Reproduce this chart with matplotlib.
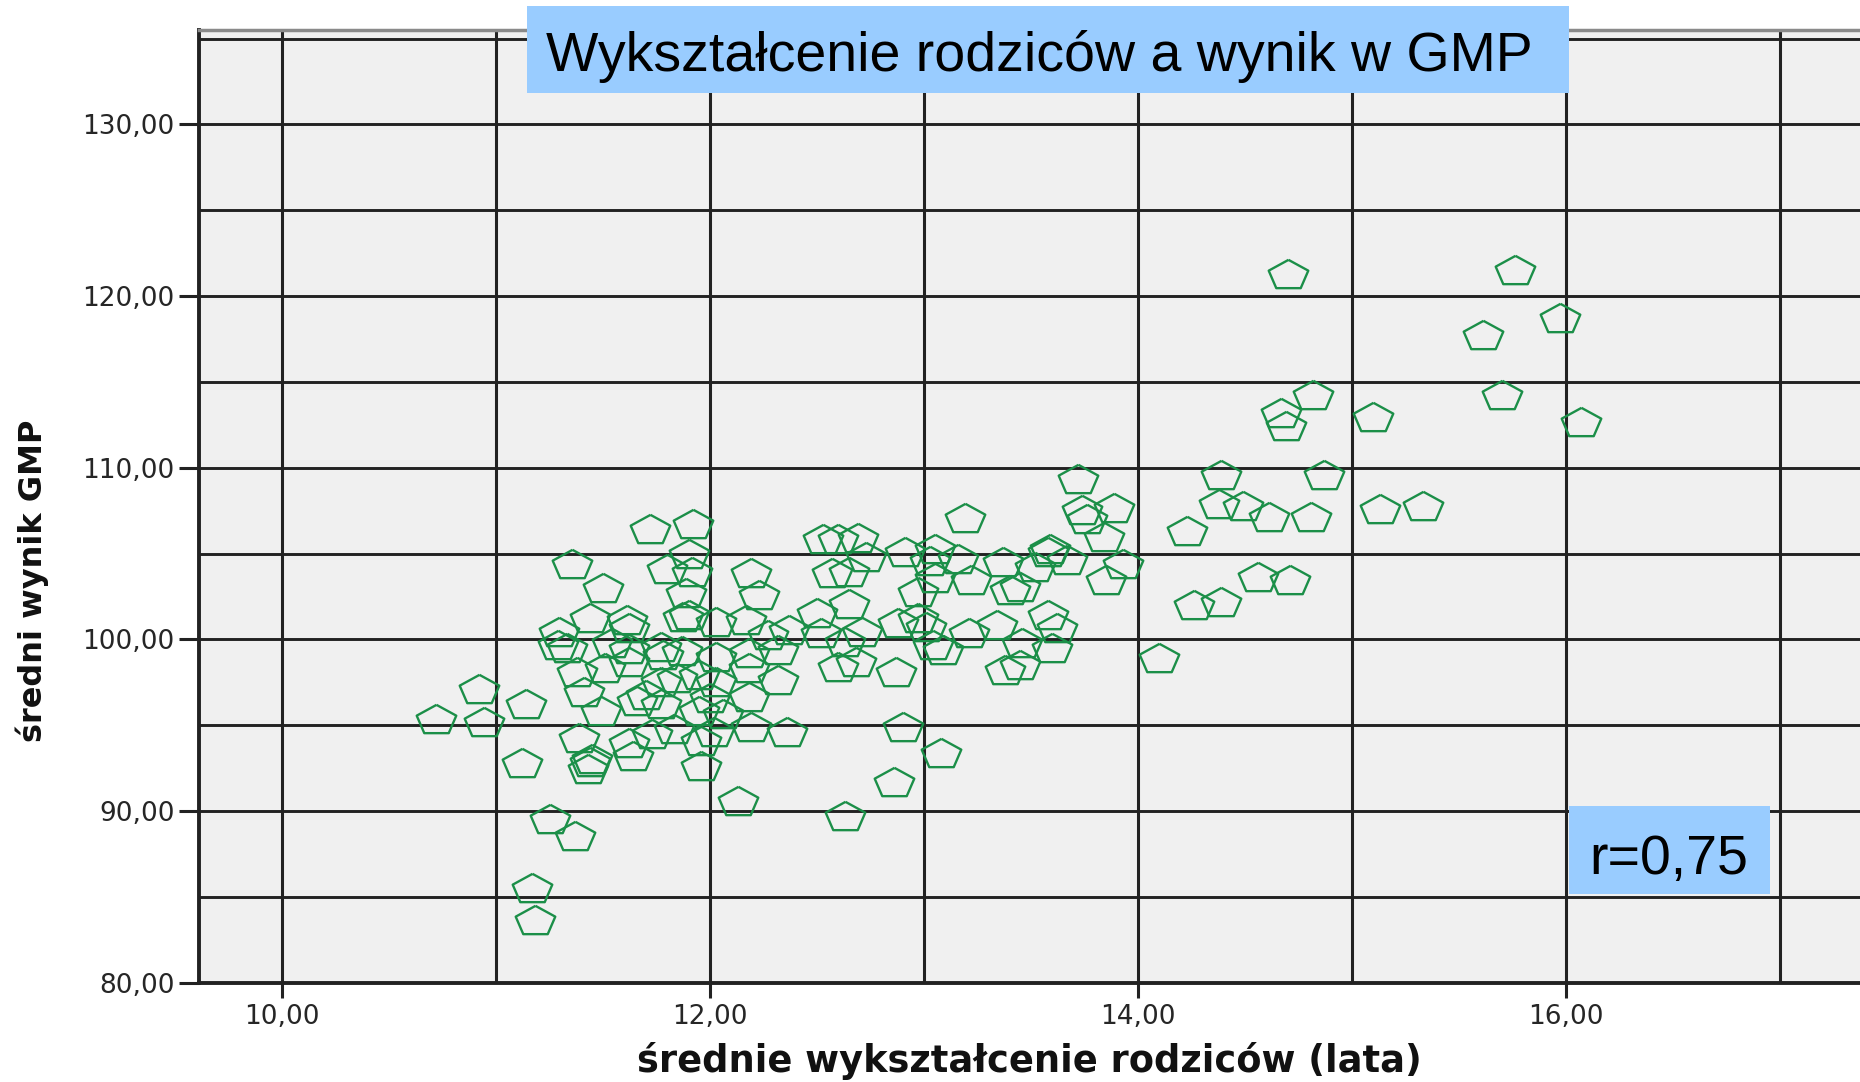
import numpy as np
import matplotlib
matplotlib.use("Agg")
import matplotlib.pyplot as plt
from matplotlib.patches import Rectangle
from matplotlib.ticker import FixedLocator, FuncFormatter

# ---- data ----
parent_edu = [
    10.72, 10.92, 10.945, 11.14, 11.12, 11.25, 11.37, 11.17, 11.18, 11.39,
    11.44, 11.43, 11.45, 11.62, 11.64, 11.49, 11.73, 11.83, 11.96, 11.96,
    11.95, 12.02, 12.06, 12.19, 12.36, 12.13, 12.90, 12.86, 12.63, 13.08,
    11.77, 11.66, 11.41, 12.18,
    11.72, 11.92, 11.355, 11.50, 11.90, 11.80, 11.915, 11.89, 11.875, 11.90,
    12.19, 12.23, 12.53, 12.60, 12.69, 12.57, 12.65, 12.73, 12.91, 13.05,
    12.65, 12.50, 12.03, 12.17, 12.37, 12.52, 12.71, 12.27, 11.295, 11.44,
    11.61, 11.62, 11.33, 11.29, 11.54, 11.77, 11.62, 11.51, 11.38, 11.78,
    12.03, 12.18, 12.32, 12.18, 12.32, 12.03, 11.845, 11.77, 11.70, 12.60,
    12.68, 12.63, 12.87, 12.88, 12.97, 12.97, 13.05, 13.04, 13.01, 13.03,
    11.95, 12.00, 11.87, 11.62,
    13.72, 14.39, 14.87, 13.19, 13.74, 13.76, 13.89, 13.84, 14.38, 14.49,
    14.61, 14.81, 14.23, 15.13, 15.33, 13.59, 13.58, 13.67, 13.93, 13.85,
    13.37, 13.52, 13.45, 13.40, 13.16, 13.22, 14.56, 14.71, 14.26, 14.39,
    14.10, 13.58, 13.62, 13.34, 13.21, 13.46, 13.60, 13.45, 13.38, 13.09,
    14.70, 15.76, 15.97, 15.61, 14.82, 15.70, 14.67, 14.69, 15.10, 16.07,
]
gmp_score = [
    95.33, 97.06, 95.10, 96.20, 92.73, 89.48, 88.51, 85.45, 83.60, 94.17,
    92.77, 92.42, 92.97, 93.93, 93.16, 95.78, 94.42, 94.71, 94.03, 92.58,
    95.78, 94.52, 95.58, 94.81, 94.57, 90.54, 94.81, 91.61, 89.67, 93.35,
    96.16, 96.35, 96.85, 96.60,
    106.40, 106.69, 104.36, 102.91, 104.94, 104.07, 103.88, 102.62, 101.26, 101.36,
    103.78, 102.52, 105.81, 105.81, 105.85, 103.78, 103.88, 104.75, 105.04, 105.20,
    102.03, 101.45, 100.97, 101.07, 100.48, 100.29, 100.39, 100.19, 100.39, 101.16,
    101.07, 100.58, 99.42, 99.61, 99.71, 99.52, 98.64, 98.26, 98.06, 99.03,
    98.93, 99.13, 99.32, 98.26, 97.58, 97.48, 97.67, 97.48, 96.71, 98.35,
    98.64, 99.81, 98.06, 100.87, 101.16, 102.71, 103.49, 99.61, 100.67, 104.48,
    97.89, 96.50, 99.28, 99.40,
    109.30, 109.50, 109.50, 107.02, 107.46, 106.98, 107.60, 105.91, 107.85, 107.71,
    107.07, 107.07, 106.24, 107.52, 107.71, 105.23, 105.04, 104.55, 104.36, 103.39,
    104.46, 104.17, 103.00, 102.81, 104.65, 103.39, 103.59, 103.39, 101.94, 102.13,
    98.84, 101.36, 100.58, 100.77, 100.29, 99.71, 99.42, 98.45, 98.16, 99.32,
    121.21, 121.44, 118.68, 117.70, 114.16, 114.20, 113.13, 112.35, 112.90, 112.61,
]
x_ticks = [10, 12, 14, 16]
y_ticks = [80, 90, 100, 110, 120, 130]
title_text = "Wykształcenie rodziców a wynik w GMP"
r_text = "r=0,75"
x_label = "średnie wykształcenie rodziców (lata)"
y_label = "średni wynik GMP"

# ---- figure ----
W, H = 1860, 1082
fig = plt.figure(figsize=(W / 100, H / 100), dpi=100)
fig.patch.set_facecolor("white")

ax = fig.add_axes([199 / W, (H - 982.7) / H, (W - 199) / W, (982.7 - 30) / H])
ax.set_facecolor("#f0f0f0")
ax.set_xlim(9.612, 17.374)
ax.set_ylim(80, 135.5)

# grid lines
grid_col = "#222222"
for gx in range(10, 18):
    ax.axvline(gx, color=grid_col, lw=2.2, zorder=1)
for gy in range(85, 140, 5):
    ax.axhline(gy, color=grid_col, lw=2.1, zorder=1)

# spines
ax.spines["right"].set_visible(False)
ax.spines["top"].set_color("#8a8a8a")
ax.spines["top"].set_linewidth(2.5)
ax.spines["left"].set_color("#222222")
ax.spines["left"].set_linewidth(2.8)
ax.spines["bottom"].set_color("#222222")
ax.spines["bottom"].set_linewidth(2.8)

# stretched pentagon marker (the original chart is stretched horizontally)
ang = np.deg2rad(np.array([90, 162, 234, 306, 18, 90]))
pent = list(zip(np.cos(ang) * 1.33, np.sin(ang)))

ax.plot(parent_edu, gmp_score, linestyle="none", marker=pent,
        markersize=28.5, markerfacecolor="none", markeredgecolor="#1b8f48",
        markeredgewidth=1.7, zorder=3, clip_on=False)

# ticks
fmt = FuncFormatter(lambda v, p: f"{v:.2f}".replace(".", ","))
ax.xaxis.set_major_locator(FixedLocator(x_ticks))
ax.yaxis.set_major_locator(FixedLocator(y_ticks))
ax.xaxis.set_major_formatter(fmt)
ax.yaxis.set_major_formatter(fmt)
ax.tick_params(axis="y", length=14.5, width=2.2, color="#222222", pad=3,
               labelsize=19, labelcolor="#262626")
ax.tick_params(axis="x", length=11, width=2.2, color="#222222", pad=4,
               labelsize=19, labelcolor="#262626")
for lab in ax.get_xticklabels() + ax.get_yticklabels():
    lab.set_family("DejaVu Sans")

ax.set_xlabel(x_label, fontsize=26.5, fontweight="bold", family="DejaVu Sans",
              va="center", ha="center", color="#111111")
ax.xaxis.set_label_coords(0.5, -0.082)
ax.set_ylabel(y_label, fontsize=23, fontweight="bold", family="DejaVu Sans",
              va="center", ha="center", color="#111111")
ax.yaxis.set_label_coords(-0.1005, 0.4216)

# title box
fig.patches.append(Rectangle((527 / W, 1 - 93 / H), 1042 / W, 87 / H,
                             transform=fig.transFigure, facecolor="#99ccff",
                             edgecolor="none", zorder=10))
fig.text(546 / W, 1 - 71 / H, title_text, fontsize=40, family="Liberation Sans",
         ha="left", va="baseline", color="black", zorder=11)

# r box
fig.patches.append(Rectangle((1569 / W, 1 - 894 / H), 201 / W, 88 / H,
                             transform=fig.transFigure, facecolor="#99ccff",
                             edgecolor="none", zorder=10))
fig.text(1669 / W, 1 - 874 / H, r_text, fontsize=40, family="Liberation Sans",
         ha="center", va="baseline", color="black", zorder=11)

fig.savefig("out.png", dpi=100, facecolor="white")
